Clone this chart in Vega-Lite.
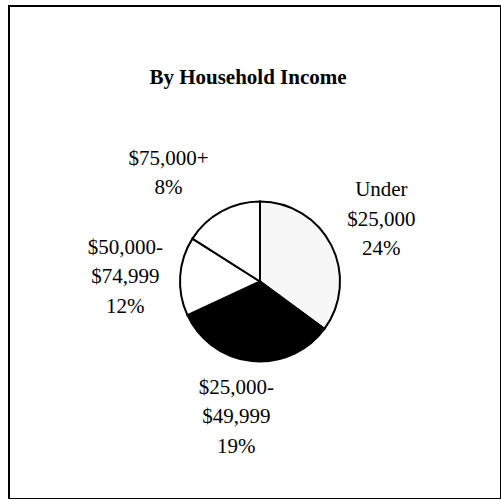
{
  "$schema": "https://vega.github.io/schema/vega-lite/v6.json",
  "width": 492,
  "height": 493,
  "autosize": {"type": "none"},
  "padding": {"left": 9, "top": 6, "right": 0, "bottom": 0},
  "background": "white",
  "view": {"stroke": "black", "strokeWidth": 2, "fill": "white"},
  "config": {"view": {"stroke": "black", "strokeWidth": 2}, "font": "Liberation Serif"},
  "title": {"text": "By Household Income", "font": "Liberation Serif", "fontSize": 21, "fontWeight": "bold", "color": "black", "offset": -82, "dx": -7, "anchor": "middle"},
  "data": {"values": [
    {"cat": "Under $25,000", "rank": 1, "share": 35.1, "label": ["Under", "$25,000", "24%"]},
    {"cat": "$25,000-$49,999", "rank": 2, "share": 33.0, "label": ["$25,000-", "$49,999", "19%"]},
    {"cat": "$50,000-$74,999", "rank": 3, "share": 15.9, "label": ["$50,000-", "$74,999", "12%"]},
    {"cat": "$75,000+", "rank": 4, "share": 16.0, "label": ["$75,000+", "8%"]}
  ]},
  "encoding": {
    "theta": {"field": "share", "type": "quantitative", "stack": true},
    "order": {"field": "rank", "type": "quantitative"}
  },
  "layer": [
    {
      "mark": {"type": "arc", "outerRadius": 80, "stroke": "black", "strokeWidth": 2, "xOffset": 5, "yOffset": 29},
      "encoding": {
        "fill": {"field": "cat", "type": "nominal", "legend": null,
          "scale": {"domain": ["Under $25,000", "$25,000-$49,999", "$50,000-$74,999", "$75,000+"], "range": ["#f7f7f7", "black", "white", "white"]}}
      }
    },
    {
      "mark": {"type": "text", "radius": 136, "xOffset": 5, "yOffset": 29, "fontSize": 21, "font": "Liberation Serif", "lineHeight": 29.5, "color": "black",
        "dx": {"expr": "datum.rank == 2 ? -10 : datum.rank == 3 ? 1 : datum.rank == 4 ? -26 : 0"},
        "dy": {"expr": "datum.rank == 1 ? -30 : datum.rank == 2 ? -29 : datum.rank == 3 ? -25 : -3.5"}},
      "encoding": {"text": {"field": "label"}}
    }
  ]
}
